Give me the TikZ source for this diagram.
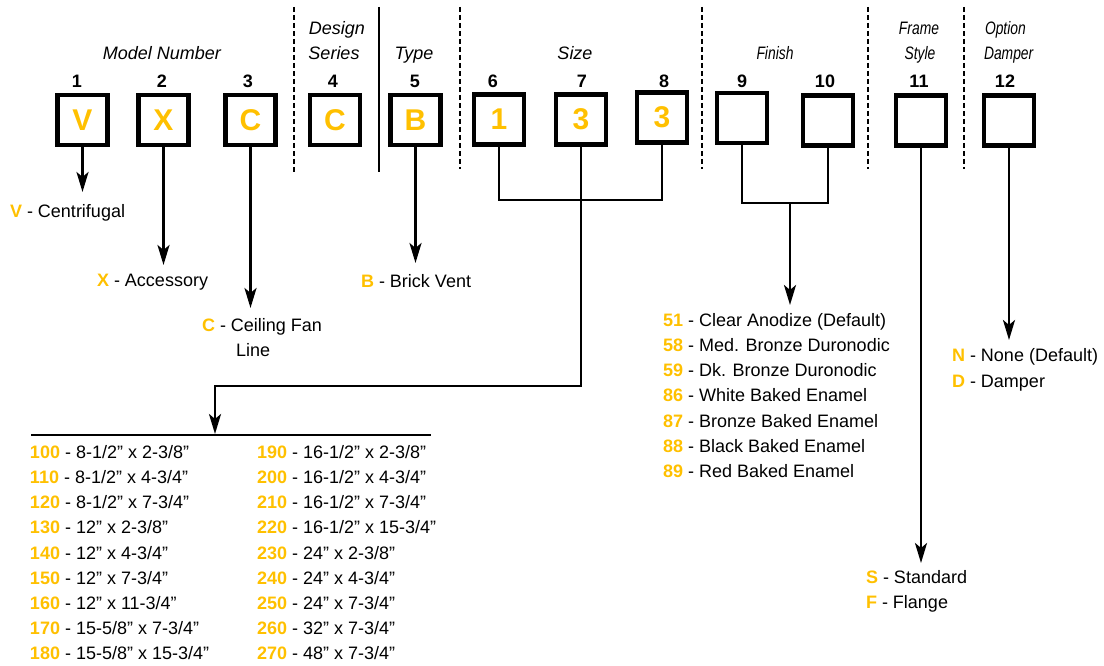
\documentclass[tikz,border=0pt]{standalone}
\usepackage{fontspec}
\setmainfont{Liberation Sans}
\usepackage{graphicx}
\usetikzlibrary{arrows.meta}
\definecolor{gold}{RGB}{255,192,0}
\newcommand{\opt}[2]{{\color{gold}\bfseries #1} - #2}
\newcommand{\cnd}[1]{\scalebox{0.77}[1]{#1}}
\begin{document}
\begin{tikzpicture}[x=1pt,y=-1pt,
  every node/.style={inner sep=0pt, outer sep=0pt},
  txt/.style={font=\fontsize{18}{22}\selectfont, anchor=base west},
  hdr/.style={font=\fontsize{18}{22}\selectfont\itshape, anchor=base},
  num/.style={font=\fontsize{18}{22}\selectfont\bfseries, anchor=base},
  digitbox/.style={draw, line width=4.5pt, minimum width=50pt, minimum height=50pt,
    font=\fontsize{30}{30}\selectfont\bfseries, text=gold},
  conn/.style={line width=2.6pt},
  arr/.style={conn, -{Stealth[length=20pt,width=12pt,inset=5pt]}},
  sep/.style={line width=2pt, dash pattern=on 5pt off 3pt},
  solidsep/.style={line width=2pt}
]
\useasboundingbox (0,0) rectangle (1104,666);

% separators
\draw[sep] (294,7) -- (294,172);
\draw[solidsep] (379,7) -- (379,172);
\draw[sep] (460,7) -- (460,169);
\draw[sep] (702,7) -- (702,169);
\draw[sep] (868,7) -- (868,169);
\draw[sep] (964,7) -- (964,169);

% headers
\node[hdr] (hModel) at (162,59.5) {Model Number};
\node[hdr] (hDesign) at (337,34.5) {Design};
\node[hdr] (hSeries) at (334,59.5) {Series};
\node[hdr] (hType) at (414,59.5) {Type};
\node[hdr] (hSize) at (575,59.5) {Size};
\node[hdr] (hFinish) at (775,59.5) {\cnd{Finish}};
\node[hdr] (hFrame) at (919,34.5) {\cnd{Frame}};
\node[hdr] (hStyle) at (920,59.5) {\cnd{Style}};
\node[hdr, anchor=base west] (hOption) at (985,34.5) {\cnd{Option}};
\node[hdr, anchor=base west] (hDamper) at (984,59.5) {\cnd{Damper}};

% position numbers
\node[num] (n1) at (77,87.5) {1};
\node[num] (n2) at (162,87.5) {2};
\node[num] (n3) at (248,87.5) {3};
\node[num] (n4) at (333,87.5) {4};
\node[num] (n5) at (415,87.5) {5};
\node[num] (n6) at (493,87.5) {6};
\node[num] (n7) at (582,87.5) {7};
\node[num] (n8) at (664,87.5) {8};
\node[num] (n9) at (742,87.5) {9};
\node[num] (n10) at (825,87.5) {10};
\node[num] (n11) at (919,87.5) {11};
\node[num] (n12) at (1005,87.5) {12};

% boxes
\node[digitbox] (b1) at (82.5,120) {V};
\node[digitbox] (b2) at (163.5,120) {X};
\node[digitbox] (b3) at (250.5,120) {C};
\node[digitbox] (b4) at (335,120) {C};
\node[digitbox] (b5) at (415.5,120) {B};
\node[digitbox] (b6) at (499,119.5) {1};
\node[digitbox] (b7) at (581,119.5) {3};
\node[digitbox] (b8) at (662,117.5) {3};
\node[digitbox] (b9) at (742,118) {};
\node[digitbox] (b10) at (828,120.5) {};
\node[digitbox] (b11) at (921,120.5) {};
\node[digitbox] (b12) at (1009,120.5) {};

% connector coordinates
\coordinate (t1) at (82.5,192);
\coordinate (t2) at (163.5,265);
\coordinate (t3) at (250.5,308);
\coordinate (t5) at (415.5,263);
\coordinate (bar68) at (581,200);
\coordinate (turnA) at (581,386);
\coordinate (turnB) at (215,386);
\coordinate (tSize) at (215,434);
\coordinate (lineL) at (31,435);
\coordinate (lineR) at (431,435);
\coordinate (finbar) at (790,203);
\coordinate (tFin) at (790,305);
\coordinate (t11) at (921,563);
\coordinate (t12) at (1009,340);

\draw[arr] (b1.south) -- (t1);
\draw[arr] (b2.south) -- (t2);
\draw[arr] (b3.south) -- (t3);
\draw[arr] (b5.south) -- (t5);
\draw[conn] (b6.south) |- (bar68) -| (b8.south);
\draw[arr] (b7.south) -- (turnA) -- (turnB) -- (tSize);
\draw[conn] (lineL) -- (lineR);
\draw[conn] (b9.south) |- (finbar) -| (b10.south);
\draw[arr] (finbar) -- (tFin);
\draw[arr] (b11.south) -- (t11);
\draw[arr] (b12.south) -- (t12);

% legends
\node[txt] (lV) at (10,217.5) {\opt{V}{Centrifugal}};
\node[txt] (lX) at (97,286.5) {\opt{X}{Accessory}};
\node[txt] (lC) at (202,331.5) {\opt{C}{Ceiling Fan}};
\node[txt] (lC2) at (236,356.5) {Line};
\node[txt] (lB) at (361,287.5) {\opt{B}{Brick Vent}};

% size list
\node[txt] (s1) at (30,458.5) {\opt{100}{8-1/2” x 2-3/8”}};
\node[txt] (s2) at (30,483.6) {\opt{110}{8-1/2” x 4-3/4”}};
\node[txt] (s3) at (30,508.8) {\opt{120}{8-1/2” x 7-3/4”}};
\node[txt] (s4) at (30,533.9) {\opt{130}{12” x 2-3/8”}};
\node[txt] (s5) at (30,559.1) {\opt{140}{12” x 4-3/4”}};
\node[txt] (s6) at (30,584.2) {\opt{150}{12” x 7-3/4”}};
\node[txt] (s7) at (30,609.4) {\opt{160}{12” x 11-3/4”}};
\node[txt] (s8) at (30,634.5) {\opt{170}{15-5/8” x 7-3/4”}};
\node[txt] (s9) at (30,659.7) {\opt{180}{15-5/8” x 15-3/4”}};
\node[txt] (s10) at (257,458.5) {\opt{190}{16-1/2” x 2-3/8”}};
\node[txt] (s11) at (257,483.6) {\opt{200}{16-1/2” x 4-3/4”}};
\node[txt] (s12) at (257,508.8) {\opt{210}{16-1/2” x 7-3/4”}};
\node[txt] (s13) at (257,533.9) {\opt{220}{16-1/2” x 15-3/4”}};
\node[txt] (s14) at (257,559.1) {\opt{230}{24” x 2-3/8”}};
\node[txt] (s15) at (257,584.2) {\opt{240}{24” x 4-3/4”}};
\node[txt] (s16) at (257,609.4) {\opt{250}{24” x 7-3/4”}};
\node[txt] (s17) at (257,634.5) {\opt{260}{32” x 7-3/4”}};
\node[txt] (s18) at (257,659.7) {\opt{270}{48” x 7-3/4”}};

% finish list
\node[txt] (f1) at (663,326.5) {\opt{51}{Clear Anodize (Default)}};
\node[txt] (f2) at (663,351.6) {\opt{58}{Med. Bronze Duronodic}};
\node[txt] (f3) at (663,376.7) {\opt{59}{Dk. Bronze Duronodic}};
\node[txt] (f4) at (663,401.8) {\opt{86}{White Baked Enamel}};
\node[txt] (f5) at (663,427) {\opt{87}{Bronze Baked Enamel}};
\node[txt] (f6) at (663,452.1) {\opt{88}{Black Baked Enamel}};
\node[txt] (f7) at (663,477.2) {\opt{89}{Red Baked Enamel}};

% damper
\node[txt] (dN) at (952,361.5) {\opt{N}{None (Default)}};
\node[txt] (dD) at (952,387.5) {\opt{D}{Damper}};

% frame style
\node[txt] (fS) at (866,583.5) {\opt{S}{Standard}};
\node[txt] (fF) at (866,608.5) {\opt{F}{Flange}};
\end{tikzpicture}
\end{document}
